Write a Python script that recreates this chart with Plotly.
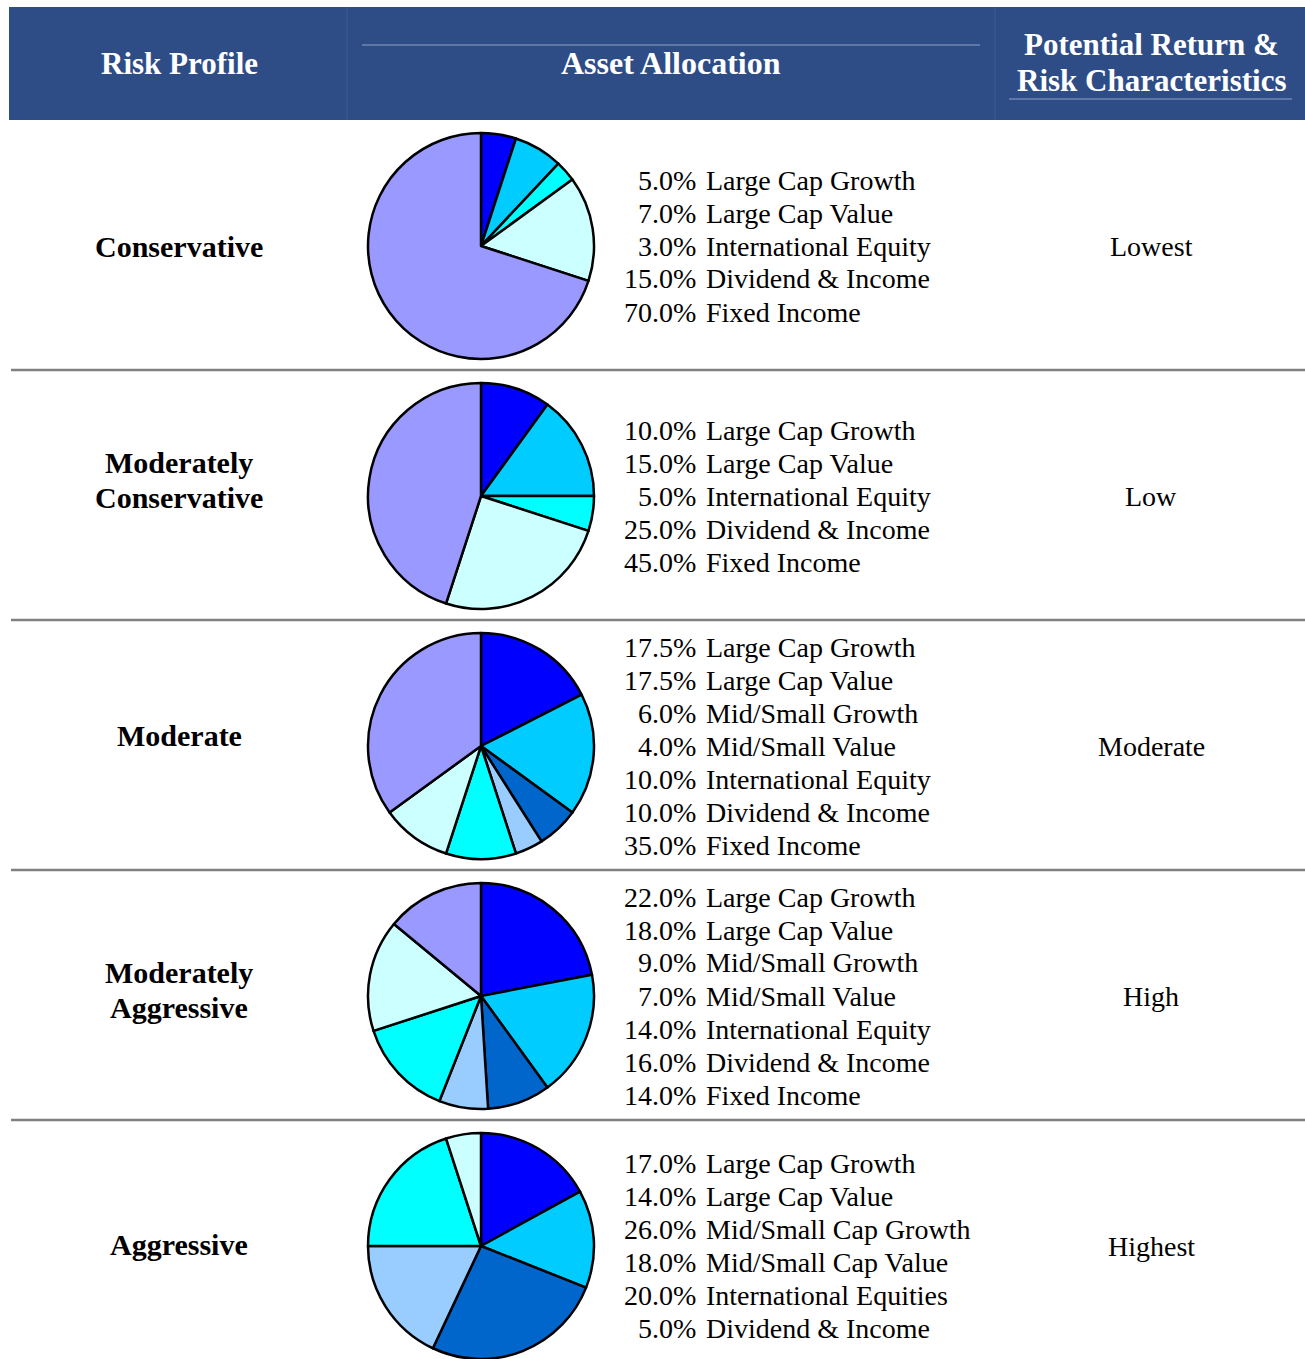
import plotly.graph_objects as go

W, H = 1305, 1359

# ---------------- data ----------------
headers = [["Risk Profile"], ["Asset Allocation"], ["Potential Return &", "Risk Characteristics"]]
profiles = [["Conservative"], ["Moderately", "Conservative"], ["Moderate"], ["Moderately", "Aggressive"], ["Aggressive"]]
risk_levels = ["Lowest", "Low", "Moderate", "High", "Highest"]

conservative_labels = ["Large Cap Growth", "Large Cap Value", "International Equity", "Dividend & Income", "Fixed Income"]
conservative_values = [5.0, 7.0, 3.0, 15.0, 70.0]

mod_conservative_labels = ["Large Cap Growth", "Large Cap Value", "International Equity", "Dividend & Income", "Fixed Income"]
mod_conservative_values = [10.0, 15.0, 5.0, 25.0, 45.0]

moderate_labels = ["Large Cap Growth", "Large Cap Value", "Mid/Small Growth", "Mid/Small Value",
                   "International Equity", "Dividend & Income", "Fixed Income"]
moderate_values = [17.5, 17.5, 6.0, 4.0, 10.0, 10.0, 35.0]

mod_aggressive_labels = ["Large Cap Growth", "Large Cap Value", "Mid/Small Growth", "Mid/Small Value",
                         "International Equity", "Dividend & Income", "Fixed Income"]
mod_aggressive_values = [22.0, 18.0, 9.0, 7.0, 14.0, 16.0, 14.0]

aggressive_labels = ["Large Cap Growth", "Large Cap Value", "Mid/Small Cap Growth", "Mid/Small Cap Value",
                     "International Equities", "Dividend & Income"]
aggressive_values = [17.0, 14.0, 26.0, 18.0, 20.0, 5.0]

category_colors = {
    "Large Cap Growth": "#0000FF",
    "Large Cap Value": "#00CCFF",
    "Mid/Small Growth": "#0066CC",
    "Mid/Small Cap Growth": "#0066CC",
    "Mid/Small Value": "#99CCFF",
    "Mid/Small Cap Value": "#99CCFF",
    "International Equity": "#00FFFF",
    "International Equities": "#00FFFF",
    "Dividend & Income": "#CCFFFF",
    "Fixed Income": "#9999FF",
}

allocations = [
    (conservative_labels, conservative_values),
    (mod_conservative_labels, mod_conservative_values),
    (moderate_labels, moderate_values),
    (mod_aggressive_labels, mod_aggressive_values),
    (aggressive_labels, aggressive_values),
]

# ---------------- layout helpers ----------------
def px(x):
    return x / W

def py(y):
    return 1 - y / H

SERIF = "Liberation Serif, Times New Roman, serif"
HEADER_BG = "#2E4D87"
HEADER_LINE = "#8EA2C9"
SEP = "#808080"

ROW_TOP = 121
ROW_H = 250
PIE_CX = 481
PIE_R = 113
LINE_SP = 33
PCT_RIGHT = 698
NAME_LEFT = 704
BODY_SIZE = 28
LABEL_SIZE = 30
LABEL_LINE_SP = 35
LABEL_OFFSETS = [0, -16, -11, -6, -2]

fig = go.Figure()
shapes = []
annotations = []

# header band
shapes.append(dict(type="rect", xref="paper", yref="paper", x0=px(9), x1=px(1305), y0=py(120), y1=py(7),
                   fillcolor=HEADER_BG, line=dict(width=0), layer="below"))
for x0, x1, y in [(362, 980, 45), (1009, 1292, 99)]:
    shapes.append(dict(type="line", xref="paper", yref="paper", x0=px(x0), x1=px(x1), y0=py(y), y1=py(y),
                       line=dict(color=HEADER_LINE, width=1)))
for x in [347, 995]:
    shapes.append(dict(type="line", xref="paper", yref="paper", x0=px(x), x1=px(x), y0=py(120), y1=py(7),
                       line=dict(color="#3D5C95", width=1)))

header_pos = [(179, [63]), (671, [63]), (1151, [45, 81])]
header_sizes = [31, 32, 31]
for lines, (x, ys), sz in zip(headers, header_pos, header_sizes):
    for txt, y in zip(lines, ys):
        annotations.append(dict(x=px(x), y=py(y), xref="paper", yref="paper", text=f"<b>{txt}</b>",
                                showarrow=False, xanchor="center", yanchor="middle", align="center",
                                font=dict(family=SERIF, size=sz, color="white")))

# row separators
for i in range(1, 5):
    y = ROW_TOP + ROW_H * i - 1
    shapes.append(dict(type="line", xref="paper", yref="paper", x0=px(11), x1=px(1305), y0=py(y), y1=py(y),
                       line=dict(color=SEP, width=2.5)))

for i, (labels, values) in enumerate(allocations):
    cy = ROW_TOP + ROW_H * (i + 0.5)
    fig.add_trace(go.Pie(
        labels=labels, values=values, sort=False, direction="clockwise", rotation=0,
        marker=dict(colors=[category_colors[l] for l in labels], line=dict(color="black", width=2.5)),
        textinfo="none", hoverinfo="label+percent", showlegend=False,
        domain=dict(x=[px(PIE_CX - PIE_R), px(PIE_CX + PIE_R)], y=[max(0, py(cy + PIE_R)), py(cy - PIE_R)]),
    ))
    # profile label
    plines = profiles[i]
    lc = cy + LABEL_OFFSETS[i]
    for j, txt in enumerate(plines):
        yj = lc + (j - (len(plines) - 1) / 2) * LABEL_LINE_SP
        annotations.append(dict(x=px(179), y=py(yj), xref="paper", yref="paper", text=f"<b>{txt}</b>",
                                showarrow=False, xanchor="center", yanchor="middle", align="center",
                                font=dict(family=SERIF, size=LABEL_SIZE, color="black")))
    # risk level
    annotations.append(dict(x=px(1151), y=py(cy), xref="paper", yref="paper", text=risk_levels[i],
                            showarrow=False, xanchor="center", yanchor="middle",
                            font=dict(family=SERIF, size=BODY_SIZE, color="black")))
    n = len(labels)
    for k, (lab, val) in enumerate(zip(labels, values)):
        yk = cy + (k - (n - 1) / 2) * LINE_SP
        annotations.append(dict(x=px(PCT_RIGHT), y=py(yk), xref="paper", yref="paper", text=f"{val:.1f}%",
                                showarrow=False, xanchor="right", yanchor="middle",
                                font=dict(family=SERIF, size=BODY_SIZE, color="black")))
        annotations.append(dict(x=px(NAME_LEFT), y=py(yk), xref="paper", yref="paper", text=lab,
                                showarrow=False, xanchor="left", yanchor="middle",
                                font=dict(family=SERIF, size=BODY_SIZE, color="black")))

fig.update_layout(
    width=W, height=H, margin=dict(l=0, r=0, t=0, b=0),
    paper_bgcolor="white", plot_bgcolor="white",
    shapes=shapes, annotations=annotations, showlegend=False,
)

fig.write_html("out.html", config={"displayModeBar": False},
               post_script="document.body.style.margin='0';document.body.style.overflow='hidden';")
